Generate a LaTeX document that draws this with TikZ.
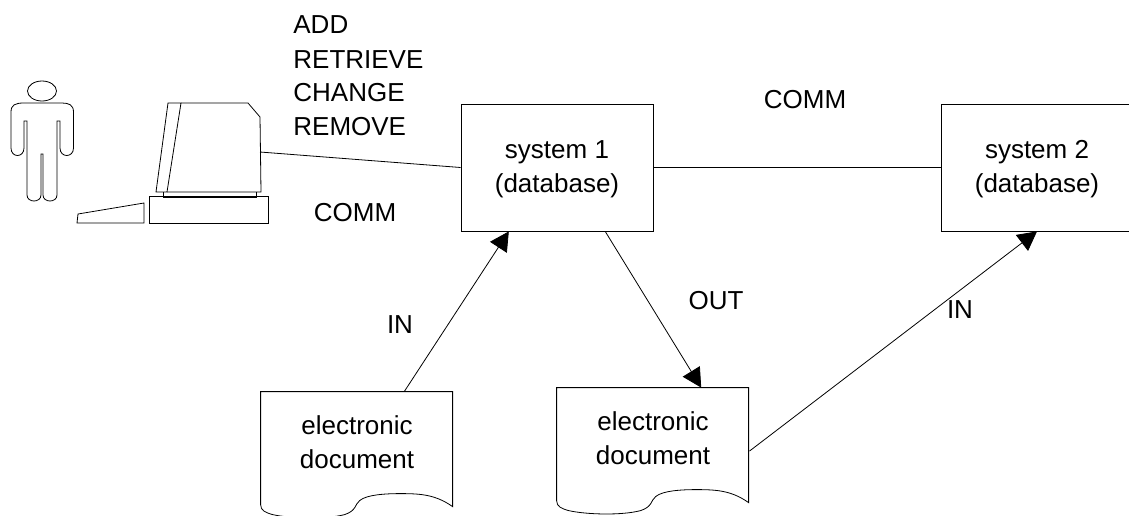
\documentclass[tikz,border=0pt]{standalone}
\usepackage{fontspec}
\setmainfont{Liberation Sans}
\usetikzlibrary{arrows.meta}
\usetikzlibrary{calc}

\tikzset{
    sysbox/.style = {draw, minimum width = 192pt, minimum height = 127pt, inner sep = 0pt, align = center},
    docbox/.style = {minimum width = 192pt, minimum height = 101pt, inner sep = 0pt, align = center},
    caption/.style = {inner sep = 0pt, anchor = base}
}

\begin{document}
\begin{tikzpicture}[>={Triangle[length = 19pt, width = 20pt]},
                    x = 1pt,
                    y = -1pt,
                    line width = .8pt,
                    font = \fontsize{26}{34}\selectfont]
            \useasboundingbox (0,0) rectangle (1129,515);

            % Draw the person:
            \draw (42,91) ellipse [x radius = 14.5, y radius = 10];
            \draw (24,103) -- (62,103) .. controls (69,103) and (73.5,105) .. (73.5,112) -- (73.5,148)
                .. controls (73.5,158) and (60,158) .. (60,148) -- (60,121) -- (57,121) -- (57,195)
                .. controls (57,203) and (43,203) .. (43,195) -- (43,154) -- (41,154) -- (41,195)
                .. controls (41,203) and (27,203) .. (27,195) -- (27,121) -- (24,121) -- (24,148)
                .. controls (24,158) and (11,158) .. (11,148) -- (11,112)
                .. controls (11,105) and (15,103) .. cycle;

            % Draw the computer:
            \draw (168,103) -- (181,103) -- (167,192) -- (156,192) -- cycle;
            \draw (181,103) -- (248,103) -- (260,117) -- (261,192) -- (167,192);
            \draw (163,192) -- (163,197) -- (256,197) -- (256,192);
            \draw (149,196) rectangle (268,223);
            \draw (78,214) -- (144,203) -- (144,223) -- (77,223) -- cycle;
            \coordinate (screen) at (260,152);

            % Draw the systems and the documents:
            \node [sysbox] (sys1) at (557,167.5) {\rule{0pt}{22pt}system 1\\(database)};
            \node [sysbox] (sys2) at (1037,167.5) {\rule{0pt}{22pt}system 2\\(database)};
            \node [docbox] (doc1) at (357,442.5) {electronic\\document};
            \node [docbox] (doc2) at (653,438.5) {electronic\\document};

            \foreach \doc in {doc1, doc2} {
                \draw [shift = {(\doc.north west)}] (0,113) -- (0,0) -- (192,0) -- (192,115)
                    .. controls (175,103) and (160,102) .. (140,102)
                    .. controls (125,102) and (106,103) .. (99,109)
                    .. controls (94,113) and (96,119) .. (84,123)
                    .. controls (65,128) and (30,127) .. (12,123)
                    .. controls (5,121) and (0,119) .. (0,113);
            }

            % Draw the connectors:
            \draw (screen) -- (sys1.west);
            \draw (sys1.east) -- (sys2.west);
            \draw [->] ($(doc1.north west)!.745!(doc1.north east)$) -- ($(sys1.south west)!.25!(sys1.south east)$);
            \draw [->] ($(sys1.south west)!.75!(sys1.south east)$) -- ($(doc2.north west)!.75!(doc2.north east)$);
            \draw [->] ($(doc2.north east)!.624!(doc2.south east)$) -- (sys2.south);

            % Draw the labels:
            \foreach \name/\posx/\posy/\word in {add/293/33/ADD, retrieve/293/68/RETRIEVE, change/293/101/CHANGE, remove/293/135/REMOVE}
                \node [caption, anchor = base west] (\name) at (\posx,\posy) {\word};
            \foreach \name/\posx/\posy/\word in {comma/355/221/COMM, commb/805/108/COMM, ina/400/333/IN, out/716/309/OUT, inb/960/318/IN}
                \node [caption] (\name) at (\posx,\posy) {\word};
        \end{tikzpicture}
\end{document}
